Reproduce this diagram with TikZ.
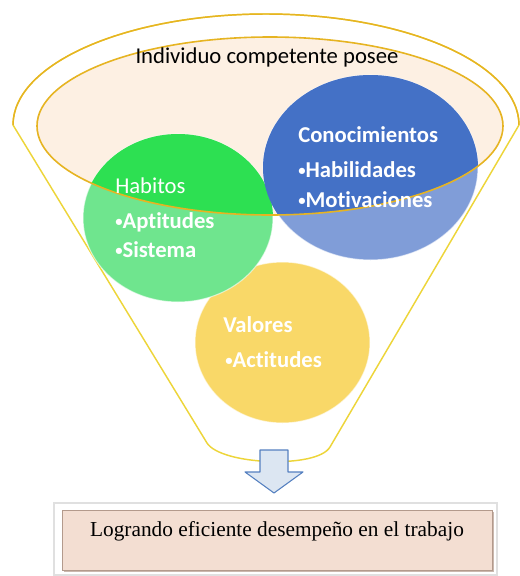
\documentclass[tikz,border=0pt]{standalone}
\usepackage{fontspec}
\setmainfont{Carlito}[Ligatures=NoCommon]
\newfontfamily\boxfont{Liberation Serif}
\usetikzlibrary{positioning}

\definecolor{rimgold}{HTML}{E6B422}
\definecolor{funnelyel}{HTML}{EDD53A}
\definecolor{peach}{HTML}{FDF0E3}
\definecolor{greenin}{HTML}{2DE052}
\definecolor{greenout}{HTML}{6FE58E}
\definecolor{bluein}{HTML}{4471C6}
\definecolor{blueout}{HTML}{809DD8}
\definecolor{yelcirc}{HTML}{F9D868}
\definecolor{arrowfill}{HTML}{DCE6F2}
\definecolor{arrowline}{HTML}{5580C0}
\definecolor{boxfill}{HTML}{F3DED2}
\definecolor{boxline}{HTML}{B39A8C}
\newcommand{\bul}{{\fontsize{11}{11}\selectfont\raisebox{0.25ex}{•}}}

\begin{document}
\begin{tikzpicture}[x=0.75pt, y=-0.75pt,
    head/.style={font=\fontsize{17}{20}\selectfont, text=white, anchor=base west, inner sep=0},
    item/.style={head, font=\fontsize{17}{20}\selectfont\bfseries},
    ball/.style={draw=white, draw opacity=0.6, line width=0.8pt}]
    \useasboundingbox (0,0) rectangle (519,576);

    % funnel
    \draw[funnelyel, line width=1.1pt, line join=round]
        (207,443) -- (13,125) arc[start angle=180, end angle=360, x radius=253, y radius=111]
        -- (330,447) .. controls (317,469) and (221,465) .. (207,443);
    \draw[rimgold, line width=1.1pt] (13,125) arc[start angle=180, end angle=360, x radius=253, y radius=111];
    \fill[peach] (270,126) ellipse[x radius=233, y radius=89];

    % circles
    \coordinate (valc) at (282.5,342.5);
    \coordinate (habc) at (178,218);
    \coordinate (conc) at (370.5,167.5);
    \fill[yelcirc, ball] (valc) ellipse[x radius=87.5, y radius=80.5];
    \fill[greenout, ball] (habc) ellipse[x radius=95, y radius=84];
    \fill[blueout, ball] (conc) ellipse[x radius=107.5, y radius=92.5];
    \begin{scope}
        \clip (270,126) ellipse[x radius=233, y radius=89];
        \fill[greenin] (habc) ellipse[x radius=95, y radius=84];
        \fill[bluein] (conc) ellipse[x radius=107.5, y radius=92.5];
    \end{scope}
    \draw[rimgold, line width=1.2pt] (270,126) ellipse[x radius=233, y radius=89];

    % texts
    \node[anchor=base, inner sep=0, font=\fontsize{17}{20}\selectfont] (title) at (267,63) {Individuo competente posee};
    \node[item] (con) at (298,142) {Conocimientos};
    \node[item] (hab) at (298,177) {\bul Habilidades};
    \node[item] (mot) at (298,207) {\bul Motivaciones};
    \node[head] (hbt) at (115,193) {Habitos};
    \node[item] (apt) at (115,228) {\bul Aptitudes};
    \node[item] (sis) at (115,257) {\bul Sistema};
    \node[item] (val) at (223,332) {Valores};
    \node[item] (act) at (225,367) {\bul Actitudes};

    % arrow and result
    \coordinate (tip) at (274,493);
    \draw[arrowline, fill=arrowfill, line width=0.8pt, line join=round]
        (tip) -- (245,472) -- (260,472) -- (260,450) -- (288,450) -- (288,472) -- (303,472) -- cycle;
    \draw[black!12, line width=1.5pt, fill=white] (54,503) rectangle (497,575);
    \fill[boxline!70] (64,512) rectangle (494,572);
    \node[draw=boxline, fill=boxfill, minimum width=322.5pt, inner sep=0,
          text height=19.5pt, text depth=25.5pt, font=\boxfont\fontsize{16}{18}\selectfont]
          (res) at (277,540) {Logrando eficiente desempeño en el trabajo};
\end{tikzpicture}
\end{document}
